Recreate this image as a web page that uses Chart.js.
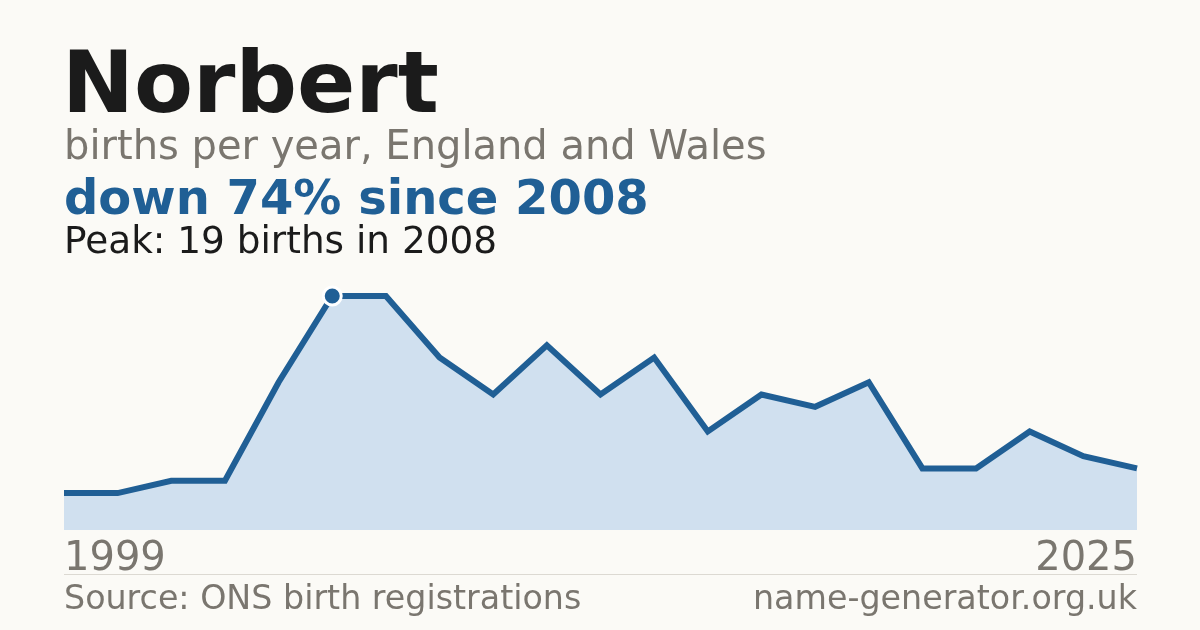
<!DOCTYPE html>
<html>
<head>
<meta charset="utf-8">
<script src="https://cdn.jsdelivr.net/npm/chart.js@4/dist/chart.umd.min.js"></script>
<style>
  html, body { margin:0; padding:0; background:#fbfaf6; }
  #wrap { position:relative; width:1200px; height:630px; overflow:hidden; font-family:"DejaVu Sans", sans-serif; }
  #c { position:absolute; left:0; top:0; }
  .t { position:absolute; white-space:nowrap; line-height:1; }
  #title { left:62px; top:39px; font-size:86px; font-weight:bold; color:#1b1b1b; }
  #sub { left:64px; top:125px; font-size:40px; color:#7a766f; }
  #head { left:64px; top:173px; font-size:48px; font-weight:bold; color:#205f95; }
  #peak { left:64px; top:222px; font-size:37.4px; color:#1b1b1b; }
  #x0 { left:64px; top:536px; font-size:40px; color:#7a766f; }
  #x1 { right:63px; top:536px; font-size:40px; color:#7a766f; }
  #rule { position:absolute; left:64px; width:1073px; top:574px; height:1px; background:#dcd9d2; }
  #src { left:64px; top:581px; font-size:33.3px; color:#7a766f; }
  #site { right:63px; top:581px; font-size:33.3px; color:#7a766f; }
</style>
</head>
<body>
<div id="wrap">
  <canvas id="c" width="1200" height="630"></canvas>
  <div class="t" id="title">Norbert</div>
  <div class="t" id="sub">births per year, England and Wales</div>
  <div class="t" id="head">down 74% since 2008</div>
  <div class="t" id="peak">Peak: 19 births in 2008</div>
  <div class="t" id="x0"></div>
  <div class="t" id="x1"></div>
  <div id="rule"></div>
  <div class="t" id="src">Source: ONS birth registrations</div>
  <div class="t" id="site">name-generator.org.uk</div>
</div>
<script>
const years = [1999, 2001, 2002, 2004, 2006, 2008, 2009, 2010, 2011, 2012, 2013, 2014, 2015, 2016, 2017, 2018, 2019, 2020, 2022, 2024, 2025];
const births = [3, 3, 4, 4, 12, 19, 19, 14, 11, 15, 11, 14, 8, 11, 10, 12, 5, 5, 8, 6, 5];
const peakYear = 2008;

document.getElementById('x0').textContent = years[0];
document.getElementById('x1').textContent = years[years.length - 1];

const peakVal = Math.max(...births);
const radii = years.map(y => y === peakYear ? 9 : 0);

new Chart(document.getElementById('c'), {
  type: 'line',
  data: {
    labels: years.map(String),
    datasets: [{
      data: births,
      borderColor: '#205f95',
      borderWidth: 6,
      backgroundColor: '#d0e0ef',
      fill: 'origin',
      tension: 0,
      borderJoinStyle: 'miter',
      pointRadius: radii,
      pointHoverRadius: radii,
      pointBackgroundColor: '#205f95',
      pointBorderColor: '#ffffff',
      pointBorderWidth: 3,
      clip: false
    }]
  },
  options: {
    responsive: false,
    animation: false,
    events: [],
    layout: { padding: { left: 64, right: 63, top: 296, bottom: 100 } },
    plugins: { legend: { display: false }, tooltip: { enabled: false } },
    scales: {
      x: { display: false, offset: false },
      y: { display: false, min: 0, max: peakVal }
    }
  }
});
</script>
</body>
</html>
